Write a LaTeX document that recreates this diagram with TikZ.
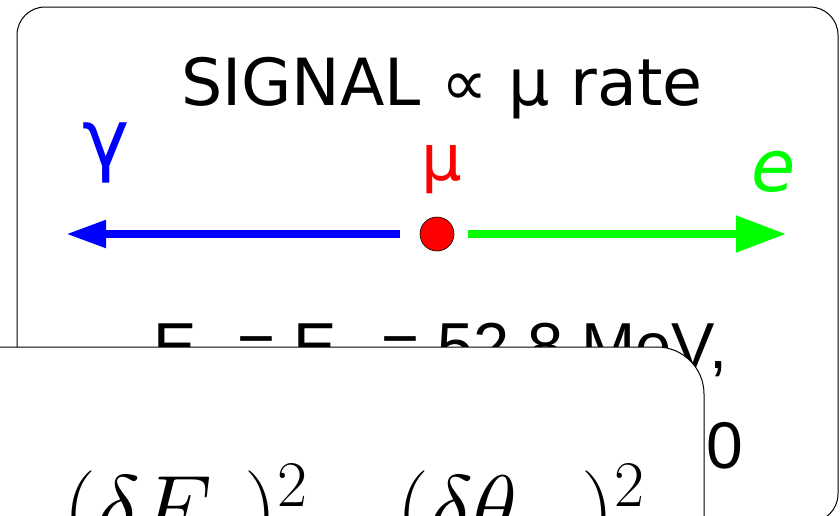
\RequirePackage{fix-cm}
\documentclass[tikz,border=0pt]{standalone}
\usepackage{fontspec}
\usetikzlibrary{arrows.meta}
\newfontfamily\dejavu{DejaVu Sans}
\newfontfamily\libsans{Liberation Sans}
\definecolor{gblue}{RGB}{0,0,255}
\definecolor{ggreen}{RGB}{0,255,0}
\definecolor{rred}{RGB}{255,0,0}
\begin{document}
\begin{tikzpicture}[x=1pt,y=-1pt,
  box/.style={draw=black, line width=1pt, fill=white},
  bigsans/.style={inner sep=0pt, anchor=base, font=\dejavu\fontsize{64}{70}\selectfont},
  linetext/.style={inner sep=0pt, anchor=base west, font=\libsans\fontsize{65}{70}\selectfont},
  arrowline/.style={line width=8pt}]
\useasboundingbox (0,0) rectangle (840,515);
% upper box
\draw[box, rounded corners=28pt] (17,7) rectangle (838,522);
\node[bigsans, font=\dejavu\fontsize{65}{70}\selectfont] (sig) at (442,105) {SIGNAL ∝ μ rate};
\node[bigsans, text=gblue, font=\dejavu\fontsize{80}{86}\selectfont] (gam) at (106,166) {γ};
\node[bigsans, text=rred] (mulab) at (442,180) {μ};
\node[bigsans, text=ggreen, font=\dejavu\itshape\fontsize{72}{80}\selectfont] (elab) at (774,191) {e};
\node[circle, draw=black, line width=0.6pt, fill=rred, minimum size=34pt, inner sep=0pt] (mu) at (437,234) {};
\coordinate (gtip) at (66,234);
\coordinate (etip) at (786,234);
\draw[arrowline, gblue, -{Triangle[length=40pt,width=26pt]}] ([xshift=-20pt]mu.west) -- (gtip);
\draw[arrowline, ggreen, -{Triangle[length=50pt,width=35pt]}] ([xshift=14pt]mu.east) -- (etip);
\node[linetext] (eline) at (153,368) {E\textsubscript{γ} = E\textsubscript{e} = 52.8 MeV,};
\node[inner sep=0pt, anchor=base east, font=\libsans\fontsize{66}{72}\selectfont] (zero) at (743,468) {0};
% lower box
\draw[box, rounded corners=47pt] (-80,347) rectangle (704,640);
\node[inner sep=0pt, anchor=base west, font=\fontsize{93}{110}\selectfont] (form) at (63,540) {$(\delta E_\gamma)^2\hspace{0.95em}(\delta\theta_{e\gamma})^2$};
\end{tikzpicture}
\end{document}
